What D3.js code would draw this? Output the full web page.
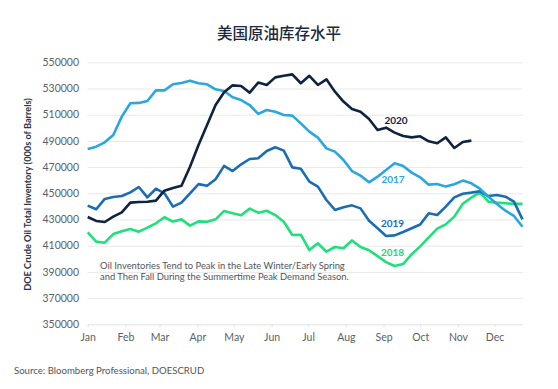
<!DOCTYPE html>
<html>
<head>
<meta charset="utf-8">
<script src="https://cdn.jsdelivr.net/npm/d3@7"></script>
<style>
  body { margin: 0; background: #fff; }
  .chart-svg text { font-family: Lato, "Noto Sans", sans-serif; }
  .grid line { stroke: #e8e8e8; stroke-width: 1; }
  .grid path { display: none; }
  .axis text { fill: #5a5f66; font-size: 10.5px; }
  .axis path, .axis line { stroke: #e2e2e2; }
</style>
</head>
<body>
<div class="chart-svg"></div>
<script>
// weekly readings, week 1 = Jan 1
var series2017 = [483800, 485600, 488900, 494500, 508500, 518700, 519000, 520500, 528600, 528600,
    533200, 534200, 536000, 534000, 533200, 529400, 528100, 523300, 521200, 517400,
    510600, 513600, 512300, 509800, 509300, 503400, 497100, 492500, 484300, 481800,
    475400, 467000, 463500, 458400, 462700, 467800, 472900, 470900, 465800, 462200,
    456600, 457100, 455100, 456900, 459700, 457600, 453500, 447400, 441800, 436700,
    432700, 424500];
var series2018 = [420200, 413100, 412300, 418900, 421000, 422800, 420700, 423800, 427100, 431700,
    428400, 430100, 425300, 428600, 428300, 430100, 436500, 434700, 433200, 438300,
    435200, 436700, 433400, 428300, 418200, 418400, 406700, 411800, 405400, 409000,
    408000, 414000, 409000, 406500, 402000, 397500, 394500, 396000, 403500, 409500,
    416400, 423000, 426300, 432200, 442000, 446700, 450700, 443600, 442900, 442400,
    441900, 441900];
var series2019 = [440600, 437800, 445700, 447200, 447900, 450700, 454800, 446900, 453500, 450000,
    439800, 442900, 450000, 457000, 455800, 460700, 470900, 467000, 472100, 476200,
    476700, 482300, 485100, 482600, 469800, 468800, 458900, 455100, 444900, 437300,
    439300, 440800, 438500, 429100, 423300, 417400, 417900, 420500, 423300, 426200,
    434700, 433400, 439800, 446900, 449700, 450500, 451500, 447900, 448700, 447400,
    443600, 430100];
var series2020 = [431900, 428900, 428100, 432200, 435500, 442900, 443400, 443600, 444400, 452000,
    454100, 455800, 470300, 486900, 502200, 517400, 527100, 532400, 531900, 526800,
    534500, 532700, 538500, 539800, 540800, 534000, 539700, 532700, 537000, 527600,
    520000, 514400, 512300, 506700, 498300, 500100, 496300, 493800, 492700, 493500,
    489700, 488200, 492700, 484600, 489200, 490200];

var yTicks = [350000, 370000, 390000, 410000, 430000, 450000, 470000, 490000, 510000, 530000, 550000];

var titleText = "美国原油库存水平";
var yLabel = "DOE Crude Oil Total Inventory (000s of Barrels)";
var noteLines = ["Oil Inventories Tend to Peak in the Late Winter/Early Spring",
    "and Then Fall During the Summertime Peak Demand Season."];
var sourceText = "Source: Bloomberg Professional, DOESCRUD";

window.onload = function(){
    var svgWidth = 558;
    var svgHeight = 389;
    var padding = {top: 62.3, right: 35.5, bottom: 64.7, left: 87.7};

    var svg = d3.select(".chart-svg")
        .append("svg")
        .attr("width", svgWidth)
        .attr("height", svgHeight);

    function weekDate(i){
        return d3.timeDay.offset(new Date(2019, 0, 1), i * 7);
    };

    var xScale = d3.scaleTime()
        .domain([new Date(2019, 0, 1), weekDate(51)])
        .range([padding.left, svgWidth - padding.right]);

    var yScale = d3.scaleLinear()
        .domain([350000, 550000])
        .range([svgHeight - padding.bottom, padding.top]);

    // gridlines
    svg.append("g")
        .attr("class", "grid")
        .attr("transform", "translate(" + padding.left + ",0)")
        .call(d3.axisLeft(yScale).tickValues(yTicks.slice(1))
            .tickSize(-(svgWidth - padding.right - padding.left)).tickFormat(""));

    // y tick labels
    svg.append("g")
        .attr("class", "axis")
        .selectAll("text")
        .data(yTicks)
        .enter()
        .append("text")
        .attr("x", 79)
        .attr("y", function(d){ return yScale(d); })
        .attr("dy", "0.35em")
        .attr("text-anchor", "end")
        .text(function(d){ return d; });

    // x axis
    var xAxis = d3.axisBottom(xScale)
        .ticks(d3.timeMonth.every(1))
        .tickFormat(d3.timeFormat("%b"))
        .tickSize(3)
        .tickPadding(6);

    svg.append("g")
        .attr("class", "axis")
        .attr("transform", "translate(0," + (svgHeight - padding.bottom) + ")")
        .call(xAxis)
        .select(".domain")
        .attr("d", "M" + padding.left + ",0.5H" + (svgWidth - padding.right));

    var lineGen = d3.line()
        .x(function(d, i){ return xScale(weekDate(i)); })
        .y(function(d){ return yScale(d); });

    var lines = [
        {name: "2018", values: series2018, color: "#1fe07a"},
        {name: "2019", values: series2019, color: "#1b6db3"},
        {name: "2017", values: series2017, color: "#2aa7e1"},
        {name: "2020", values: series2020, color: "#0f2240"}
    ];

    svg.append("g")
        .selectAll("path")
        .data(lines)
        .enter()
        .append("path")
        .attr("fill", "none")
        .attr("stroke", function(d){ return d.color; })
        .attr("stroke-width", 2.6)
        .attr("stroke-linejoin", "round")
        .attr("d", function(d){ return lineGen(d.values); });

    // series labels
    var labelPos = {"2020": [396, 120], "2017": [393, 179.5], "2019": [392.5, 223], "2018": [392.5, 252]};
    svg.append("g")
        .selectAll("text")
        .data(lines)
        .enter()
        .append("text")
        .attr("x", function(d){ return labelPos[d.name][0]; })
        .attr("y", function(d){ return labelPos[d.name][1]; })
        .attr("dy", "0.35em")
        .attr("text-anchor", "middle")
        .attr("font-size", "10px")
        .attr("font-weight", "bold")
        .attr("fill", function(d){ return d.color == "#1fe07a" ? "#1bd870" : d.color; })
        .text(function(d){ return d.name; });

    // annotation
    svg.append("g")
        .selectAll("text")
        .data(noteLines)
        .enter()
        .append("text")
        .attr("x", 100)
        .attr("y", function(d, i){ return 269 + i * 11; })
        .attr("font-size", "9.4px")
        .attr("fill", "#50555c")
        .text(function(d){ return d; });

    svg.append("text")
        .attr("x", 279)
        .attr("y", 39)
        .attr("text-anchor", "middle")
        .attr("font-size", "15.5px")
        .attr("font-weight", "500")
        .attr("fill", "#1c2940")
        .style("font-family", "'Noto Sans CJK SC', sans-serif")
        .text(titleText);

    svg.append("text")
        .attr("transform", "translate(31," + 194.5 + ") rotate(-90)")
        .attr("text-anchor", "middle")
        .attr("font-size", "9.2px")
        .attr("font-weight", "bold")
        .attr("fill", "#2c3440")
        .text(yLabel);

    svg.append("text")
        .attr("x", 14)
        .attr("y", 374)
        .attr("font-size", "9.6px")
        .attr("fill", "#50555c")
        .text(sourceText);
};
</script>
</body>
</html>
